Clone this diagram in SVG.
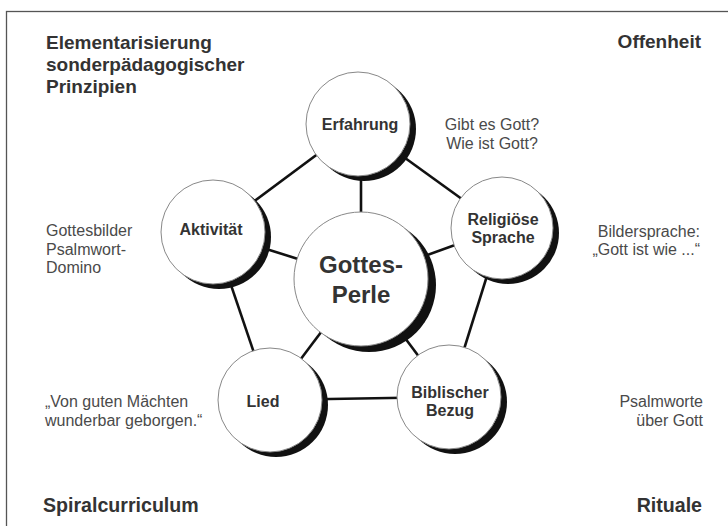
<svg xmlns="http://www.w3.org/2000/svg" width="728" height="526" viewBox="0 0 728 526">
<style>
.frame{fill:none;stroke:#555;stroke-width:1.3}
.link{stroke:#111;stroke-width:2.6;fill:none}
.sh{fill:#111}
.disc{fill:#fff;stroke:#888;stroke-width:1}
.lbl{font-family:"Liberation Sans",Arial,sans-serif;font-weight:bold;font-size:16px;fill:#333;text-anchor:middle}
.big{font-size:24px}
.head{font-family:"Liberation Sans",Arial,sans-serif;font-weight:bold;font-size:19px;fill:#333}
.foot{font-size:19.6px}
.note{font-family:"Liberation Sans",Arial,sans-serif;font-size:16px;fill:#4a4a4a}
</style>
<rect width="728" height="526" fill="#fff"/>
<rect class="frame" x="6.5" y="11.5" width="740" height="530"/>

<g id="corner-labels">
<text class="head" x="46" y="49">Elementarisierung</text>
<text class="head" x="46" y="71">sonderpädagogischer</text>
<text class="head" x="46" y="93">Prinzipien</text>
<text class="head" x="701" y="48" text-anchor="end">Offenheit</text>
<text class="head foot" x="43" y="512">Spiralcurriculum</text>
<text class="head foot" x="702" y="512" text-anchor="end">Rituale</text>
</g>

<g id="notes">
<text class="note" x="492" y="130" text-anchor="middle">Gibt es Gott?</text>
<text class="note" x="492" y="149" text-anchor="middle">Wie ist Gott?</text>
<text class="note" x="700" y="237" text-anchor="end">Bildersprache:</text>
<text class="note" x="700" y="255" text-anchor="end">„Gott ist wie ...“</text>
<text class="note" x="703" y="407" text-anchor="end">Psalmworte</text>
<text class="note" x="703" y="426" text-anchor="end">über Gott</text>
<text class="note" x="46" y="236">Gottesbilder</text>
<text class="note" x="46" y="255">Psalmwort-</text>
<text class="note" x="46" y="273">Domino</text>
<text class="note" x="45" y="407">„Von guten Mächten</text>
<text class="note" x="45" y="426">wunderbar geborgen.“</text>
</g>

<g id="connectors">
<line class="link" x1="358" y1="124" x2="502" y2="228"/>
<line class="link" x1="502" y1="228" x2="449" y2="397"/>
<line class="link" x1="449" y1="397" x2="270" y2="400"/>
<line class="link" x1="270" y1="400" x2="213" y2="232"/>
<line class="link" x1="213" y1="232" x2="358" y2="124"/>
<line class="link" x1="361" y1="279" x2="361" y2="124"/>
<line class="link" x1="361" y1="279" x2="502" y2="228"/>
<line class="link" x1="361" y1="279" x2="449" y2="397"/>
<line class="link" x1="361" y1="279" x2="270" y2="400"/>
<line class="link" x1="361" y1="279" x2="213" y2="232"/>
</g>

<g id="node-center">
<circle class="sh" cx="369" cy="285" r="67"/>
<circle class="disc" cx="361" cy="279" r="67"/>
<text class="lbl big" x="361" y="273">Gottes-</text>
<text class="lbl big" x="361" y="303">Perle</text>
</g>

<g id="node-erfahrung">
<circle class="sh" cx="364" cy="129" r="52"/>
<circle class="disc" cx="358" cy="124" r="52"/>
<text class="lbl" x="360" y="130">Erfahrung</text>
</g>

<g id="node-religioese-sprache">
<circle class="sh" cx="508" cy="233" r="51"/>
<circle class="disc" cx="502" cy="228" r="51"/>
<text class="lbl" x="503" y="225">Religiöse</text>
<text class="lbl" x="503" y="243">Sprache</text>
</g>

<g id="node-biblischer-bezug">
<circle class="sh" cx="455" cy="402" r="52"/>
<circle class="disc" cx="449" cy="397" r="52"/>
<text class="lbl" x="450" y="398">Biblischer</text>
<text class="lbl" x="450" y="416">Bezug</text>
</g>

<g id="node-lied">
<circle class="sh" cx="276" cy="405" r="52"/>
<circle class="disc" cx="270" cy="400" r="52"/>
<text class="lbl" x="263" y="407">Lied</text>
</g>

<g id="node-aktivitaet">
<circle class="sh" cx="219" cy="237" r="52"/>
<circle class="disc" cx="213" cy="232" r="52"/>
<text class="lbl" x="211" y="235">Aktivität</text>
</g>
</svg>
